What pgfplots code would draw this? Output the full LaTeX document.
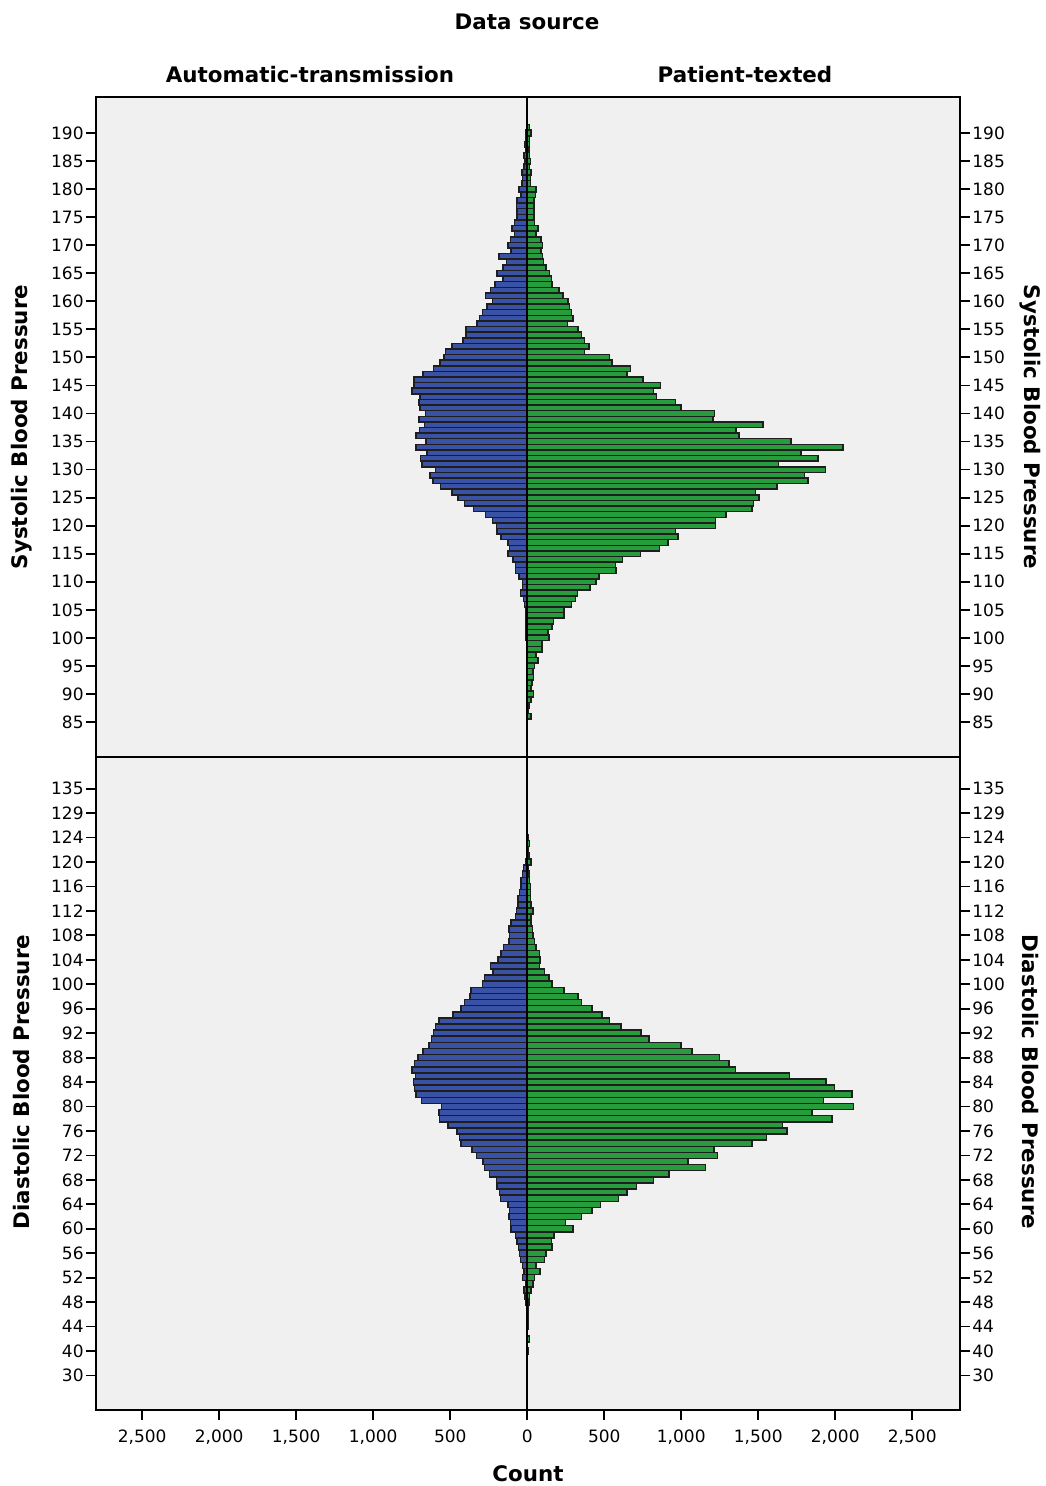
\documentclass[border=0pt]{standalone}
\usepackage{pgfplots}
\pgfplotsset{compat=1.18}
\usepackage{pgfplotstable}
\usepackage{fontspec}
\setmainfont{DejaVu Sans}

\definecolor{autoblue}{RGB}{58,82,165}
\definecolor{textgreen}{RGB}{38,156,60}
\definecolor{panelgray}{RGB}{240,240,240}
\definecolor{barline}{RGB}{30,30,30}

\newcommand\hdr{\fontsize{10.7bp}{12bp}\selectfont\bfseries}

% systolic: value, automatic-transmission count (L), patient-texted count (R)
\pgfplotstableread{
v L R
191 6 15
190 10 25
189 8 15
188 15 15
187 12 10
186 20 15
185 15 20
184 22 15
183 35 25
182 30 20
181 35 20
180 54 58
179 40 55
178 67 45
177 70 45
176 67 45
175 67 45
174 82 48
173 100 69
172 82 58
171 108 91
170 125 100
169 104 91
168 184 100
167 136 106
166 158 123
165 195 145
164 158 156
163 208 162
162 238 206
161 271 232
160 227 264
159 260 275
158 292 286
157 310 297
156 327 260
155 396 329
154 396 351
153 418 372
152 487 400
151 532 372
150 541 535
149 565 550
148 608 669
147 677 649
146 736 751
145 736 864
144 747 820
143 695 838
142 703 963
141 695 1000
140 660 1216
139 703 1206
138 667 1530
137 698 1357
136 721 1374
135 656 1714
134 721 2050
133 652 1779
132 693 1887
131 682 1632
130 595 1937
129 630 1801
128 613 1823
127 563 1623
126 487 1483
125 450 1504
124 407 1470
123 348 1461
122 271 1292
121 227 1223
120 201 1223
119 195 963
118 169 978
117 126 913
116 115 859
115 126 734
114 93 617
113 76 574
112 76 578
111 54 465
110 32 448
109 32 409
108 45 325
107 24 314
106 17 286
105 11 238
104 11 238
103 11 171
102 11 162
101 8 134
100 8 141
99 6 97
98 6 97
97 5 58
96 5 69
95 4 48
94 4 37
93 3 41
92 3 30
91 2 26
90 2 41
89 2 26
88 1 11
87 1 4
86 1 26
85 0 2
}\systolic

% diastolic: category position (tick labels map it back), L, R
\pgfplotstableread{
pos L R
126 1 2
125 2 3
124 3 8
123 3 15
122 5 5
121 5 10
120 10 26
119 24 9
118 32 10
117 39 15
116 39 20
115 50 22
114 61 20
113 61 26
112 71 37
111 76 26
110 104 26
109 120 35
108 115 37
107 119 48
106 154 58
105 169 80
104 190 84
103 238 80
102 223 113
101 277 141
100 292 162
99 364 238
98 370 329
97 407 351
96 429 422
95 483 487
94 574 535
93 595 610
92 608 740
91 623 790
90 639 1000
89 677 1071
88 710 1249
87 732 1310
86 747 1353
85 725 1703
84 740 1940
83 732 1996
82 721 2108
81 688 1924
80 558 2119
79 574 1848
78 569 1978
77 515 1656
76 457 1686
75 439 1552
74 429 1461
73 357 1212
72 331 1234
71 288 1043
70 277 1156
69 245 920
68 201 820
67 197 708
66 180 649
65 175 593
64 126 476
63 115 422
62 119 351
61 108 249
60 104 297
59 76 173
58 67 156
57 56 162
56 50 123
55 45 113
54 32 58
53 22 84
52 32 48
51 11 37
50 22 26
49 13 15
48 8 10
47 5 6
46 4 5
45 3 4
44 2 5
43 2 3
42 2 15
41 1 3
40 1 5
39 1 2
38 1 1
}\diastolic

\pgfplotsset{
  panel/.style={
    scale only axis, width=432bp,
    xmin=-2800, xmax=2810,
    axis line style={black, line width=0.8bp},
    tick style={black, line width=0.9bp},
    major tick length=5bp,
    tick align=outside,
    ticklabel style={font=\fontsize{8.5bp}{10bp}\selectfont},
    yticklabel style={inner xsep=1bp},
    /pgf/number format/assume math mode=true,
  },
  bars/.style={xbar, bar width=1, bar shift=0pt, draw=barline, line width=0.75bp},
  sysy/.style={height=330bp, ymin=78.76, ymax=196.42, ytick={85,90,...,190}},
  diay/.style={height=326.5bp, ymin=30.35, ymax=137.18,
    ytick={36,40,...,132},
    yticklabels={30,40,44,48,52,56,60,64,68,72,76,80,84,88,92,96,100,104,108,112,116,120,124,129,135}},
}

\begin{document}
\begin{tikzpicture}
\useasboundingbox (0,0) rectangle (523bp,-743bp);

\node[font=\hdr] at (263.5bp,-11bp) {Data source};
\node[font=\hdr] at (155bp,-37.5bp) {Automatic-transmission};
\node[font=\hdr] at (372.5bp,-37.5bp) {Patient-texted};
\node[font=\hdr, rotate=90] at (11bp,-213.5bp) {Systolic Blood Pressure};
\node[font=\hdr, rotate=-90] at (515bp,-213.5bp) {Systolic Blood Pressure};
\node[font=\hdr, rotate=90] at (11bp,-541bp) {Diastolic Blood Pressure};
\node[font=\hdr, rotate=-90] at (515bp,-541bp) {Diastolic Blood Pressure};
\node[font=\hdr] at (264bp,-737bp) {Count};

% systolic panel
\begin{axis}[panel, sysy, at={(48bp,-48.5bp)}, anchor=north west,
  axis background/.style={fill=panelgray},
  xtick=\empty, ytick pos=left]
\addplot[bars, fill=autoblue] table[x expr=-\thisrow{L}, y=v] {\systolic};
\addplot[bars, fill=textgreen] table[x=R, y=v] {\systolic};
\draw[black, line width=1bp] ({axis cs:0,100}|-{rel axis cs:0,0}) -- ({axis cs:0,100}|-{rel axis cs:0,1});
\end{axis}
\begin{axis}[panel, sysy, at={(48bp,-48.5bp)}, anchor=north west,
  xtick=\empty, ytick pos=right, yticklabel pos=right]
\end{axis}

% diastolic panel
\begin{axis}[panel, diay, at={(48bp,-378.5bp)}, anchor=north west,
  axis background/.style={fill=panelgray},
  xtick={-2500,-2000,...,2500},
  xticklabels={{2,500},{2,000},{1,500},{1,000},500,0,500,{1,000},{1,500},{2,000},{2,500}},
  xticklabel style={yshift=-1.5bp},
  xtick pos=left, ytick pos=left]
\addplot[bars, fill=autoblue] table[x expr=-\thisrow{L}, y=pos] {\diastolic};
\addplot[bars, fill=textgreen] table[x=R, y=pos] {\diastolic};
\draw[black, line width=1bp] ({axis cs:0,80}|-{rel axis cs:0,0}) -- ({axis cs:0,80}|-{rel axis cs:0,1});
\end{axis}
\begin{axis}[panel, diay, at={(48bp,-378.5bp)}, anchor=north west,
  xtick=\empty, ytick pos=right, yticklabel pos=right]
\end{axis}
\end{tikzpicture}
\end{document}
